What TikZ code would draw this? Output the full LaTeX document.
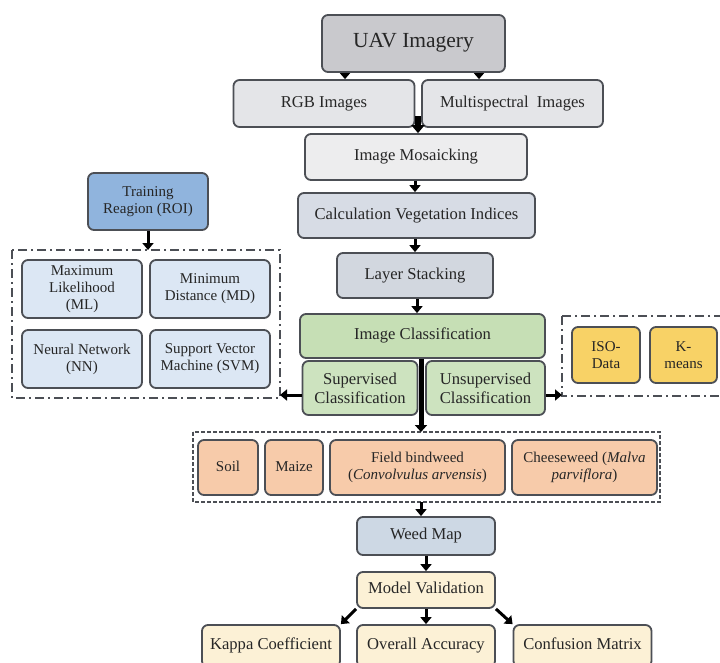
\documentclass[tikz,border=0pt]{standalone}
\usepackage{fontspec}
\setmainfont{Liberation Serif}
\usetikzlibrary{arrows.meta}
\definecolor{bordc}{HTML}{4C4F55}
\definecolor{uavc}{HTML}{C9C9CD}
\definecolor{rgbc}{HTML}{E4E5E8}
\definecolor{mosc}{HTML}{EDEDEE}
\definecolor{calcc}{HTML}{D7DCE5}
\definecolor{layc}{HTML}{D2D7DF}
\definecolor{grnc}{HTML}{C6DFB5}
\definecolor{grn2}{HTML}{CDE3BF}
\definecolor{trc}{HTML}{90B4DD}
\definecolor{clsc}{HTML}{DCE7F4}
\definecolor{yelc}{HTML}{F8D266}
\definecolor{salc}{HTML}{F7CBAA}
\definecolor{wmc}{HTML}{CDD8E4}
\definecolor{crmc}{HTML}{FCF1D6}
\definecolor{txtc}{HTML}{262626}
\tikzset{
  x=1pt,y=-1pt,
  bx/.style={draw=bordc, line width=1.8pt, rounded corners=6pt, align=center,
    inner sep=2pt, text=txtc, font=\fontsize{16.6}{19}\selectfont},
  one/.style={text height=0.74em, text depth=0.02em},
  sm/.style={font=\fontsize{15}{17}\selectfont},
  sz/.style 2 args={minimum width=#1pt, minimum height=#2pt},
  arr/.style={line width=3pt, -{Triangle[length=7pt,width=11pt]}},
  frameA/.style={draw=bordc, line width=1.8pt, dash pattern=on 9pt off 4pt on 2pt off 4pt},
  frameB/.style={draw=bordc, line width=1.2pt, dash pattern=on 4pt off 2pt},
}
\begin{document}
\begin{tikzpicture}
\useasboundingbox[fill=white] (0,0) rectangle (720,662);

% frames
\draw[frameA] (12,250) rectangle (280,398);
\draw[frameA] (562,316) rectangle (724,396);
\draw[frameB] (193,432) rectangle (660,502);
\coordinate (fl) at (280,395);
\coordinate (fr) at (562,395);
\coordinate (ftop) at (421,432);
\coordinate (fbot) at (421,502);
\coordinate (ltop) at (148,250);

% main flow
\node[bx, one, fill=uavc, sz={183}{57}, font=\fontsize{21.5}{24}\selectfont] (uav) at (413.5,43.5) {UAV Imagery};
\node[bx, one, fill=rgbc, sz={181}{47}] (rgb) at (324,103.5) {RGB Images};
\node[bx, one, fill=rgbc, sz={181}{47}] (ms) at (512.5,103.5) {Multispectral\ \ Images};
\node[bx, one, fill=mosc, sz={222}{46}] (mos) at (416,157) {Image Mosaicking};
\node[bx, one, fill=calcc, sz={237}{45}] (calc) at (416.5,215.5) {Calculation Vegetation Indices};
\node[bx, one, fill=layc, sz={156}{45}] (lay) at (415,275.5) {Layer Stacking};
\node[bx, one, fill=grnc, sz={245}{44}] (ic) at (422.5,336) {Image Classification};
\node[bx, fill=grn2, sz={115}{54}] (sup) at (360,388) {Supervised\\Classification};
\node[bx, fill=grn2, sz={119}{54}] (uns) at (485.5,388) {Unsupervised\\Classification};

% left block
\node[bx, sm, fill=trc, sz={120}{57}] (tr) at (148,201.5) {Training\\Reagion (ROI)};
\node[bx, sm, fill=clsc, sz={120}{58}] (ml) at (82,289) {Maximum\\Likelihood\\(ML)};
\node[bx, sm, fill=clsc, sz={120}{58}] (md) at (210,289) {Minimum\\Distance (MD)};
\node[bx, sm, fill=clsc, sz={120}{58}] (nn) at (82,359) {Neural Network\\(NN)};
\node[bx, sm, fill=clsc, sz={120}{58}] (svm) at (210,359) {Support Vector\\Machine (SVM)};

% right block
\node[bx, sm, fill=yelc, sz={68}{56}] (iso) at (606,355) {ISO-\\Data};
\node[bx, sm, fill=yelc, sz={67}{56}] (km) at (683.5,355) {K-\\means};

% classes
\node[bx, sm, one, fill=salc, sz={60}{55}] (soil) at (228,467.5) {Soil};
\node[bx, sm, one, fill=salc, sz={58}{55}] (maize) at (294,467.5) {Maize};
\node[bx, sm, fill=salc, sz={175}{55}] (fb) at (417.5,467.5) {Field bindweed\\(\textit{Convolvulus arvensis})};
\node[bx, sm, fill=salc, sz={145}{55}] (cw) at (584.5,467.5) {Cheeseweed (\textit{Malva}\\\textit{parviflora})};

% bottom
\node[bx, one, fill=wmc, sz={138}{38}] (wm) at (426,536) {Weed Map};
\node[bx, one, fill=crmc, sz={138}{36}] (mv) at (426,590) {Model Validation};
\node[bx, one, fill=crmc, sz={138}{42}] (kc) at (271,646) {Kappa Coefficient};
\node[bx, one, fill=crmc, sz={138}{42}] (oa) at (426,646) {Overall Accuracy};
\node[bx, one, fill=crmc, sz={138}{42}] (cm) at (582.5,646) {Confusion Matrix};

% connectors
\draw[line width=3pt, -{Triangle[length=6pt,width=10pt]}] (uav.south -| 345,0) -- (rgb.north -| 345,0);
\draw[line width=3pt, -{Triangle[length=6pt,width=10pt]}] (uav.south -| 479,0) -- (ms.north -| 479,0);
\draw[line width=6pt, -{Triangle[length=8pt,width=13pt]}] (418,116) -- (mos.north -| 418,0);
\draw[arr] (mos.south -| 415,0) -- (calc.north -| 415,0);
\draw[arr] (calc.south -| 415,0) -- (lay.north -| 415,0);
\draw[arr] (lay.south -| 417,0) -- (ic.north -| 417,0);
\draw[line width=5pt, -{Triangle[length=7pt,width=12pt]}] (ic.south -| 421,0) -- (ftop);
\draw[arr] (sup.west |- fl) -- (fl);
\draw[arr] (uns.east |- fr) -- (fr);
\draw[arr] (tr.south) -- (ltop);
\draw[arr] (fbot) -- (wm.north -| 421,0);
\draw[arr] (wm.south) -- (mv.north);
\draw[arr] (mv.south) -- (oa.north);
\draw[arr] (mv.south west) -- (kc.north east);
\draw[arr] (mv.south east) -- (cm.north west);
\end{tikzpicture}
\end{document}
